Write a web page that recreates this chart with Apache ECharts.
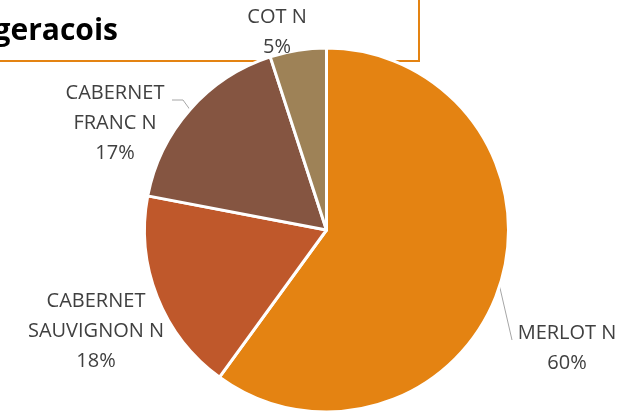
<!DOCTYPE html>
<html>
<head>
<meta charset="utf-8">
<script src="https://cdn.jsdelivr.net/npm/echarts@6/dist/echarts.min.js"></script>
<style>
  html, body { margin: 0; padding: 0; background: #fff; }
  #chart { width: 628px; height: 413px; }
</style>
</head>
<body>
<div id="chart"></div>
<script>
// cepages et parts (%)
const cepages = ['MERLOT N', 'CABERNET SAUVIGNON N', 'CABERNET FRANC N', 'COT N'];
const parts = [60, 18, 17, 5];
const couleurs = ['#e48312', '#bf582b', '#855541', '#9e8257'];
const titre = 'Bergeracois';

// ou poser chaque etiquette (centre du bloc de texte)
const labelPos = [[567, 348], [96, 331], [115, 123], [277, 32]];
const showLine = [true, false, true, false];

let chart = echarts.init(document.getElementById('chart'));

let data = cepages.map((name, i) => ({
    name: name,
    value: parts[i],
    itemStyle: { color: couleurs[i] },
    labelLine: { show: showLine[i] }
}));

let option = {
    animation: false,
    graphic: [
        {
            type: 'rect',
            z: 0,
            shape: { x: -5, y: -5, width: 424, height: 66 },
            style: { fill: '#fff', stroke: '#e48312', lineWidth: 2 }
        },
        {
            type: 'text',
            z: 1,
            x: 118,
            y: 31,
            style: {
                text: titre,
                align: 'right',
                verticalAlign: 'middle',
                font: 'bold 30px "Open Sans"',
                fill: '#000'
            }
        }
    ],
    series: [
        {
            type: 'pie',
            center: [326.5, 230],
            radius: 182,
            startAngle: 90,
            clockwise: true,
            itemStyle: { borderColor: '#fff', borderWidth: 3 },
            label: {
                show: true,
                position: 'outside',
                color: '#404040',
                fontFamily: 'Open Sans',
                fontSize: 20,
                lineHeight: 30,
                align: 'center',
                overflow: 'none',
                formatter: p => p.name.replace('CABERNET ', 'CABERNET\n') + '\n' + Math.round(p.percent) + '%'
            },
            labelLine: {
                length: 10,
                length2: 10,
                lineStyle: { color: '#a6a6a6', width: 1 }
            },
            labelLayout: function (params) {
                let i = params.dataIndex;
                let pos = labelPos[i];
                let out = {
                    x: pos[0],
                    y: pos[1],
                    align: 'center',
                    verticalAlign: 'middle'
                };
                let pts = params.labelLinePoints;
                if (pts && showLine[i]) {
                    let a = pts[0];
                    if (i === 2) {
                        out.labelLinePoints = [a, [pos[0] + 68, pos[1] - 23], [pos[0] + 57, pos[1] - 23]];
                    } else {
                        out.labelLinePoints = [a, [pos[0] - 55, pos[1] - 8], [pos[0] - 55, pos[1] - 8]];
                    }
                }
                return out;
            },
            data: data
        }
    ]
};

chart.setOption(option);
</script>
</body>
</html>
